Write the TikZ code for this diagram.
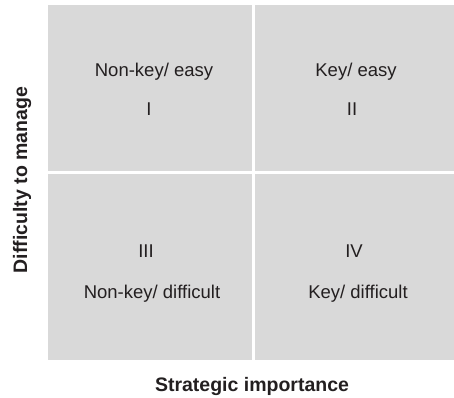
\documentclass[tikz,border=0pt]{standalone}
\usepackage{fontspec}
\setmainfont{Liberation Sans}
\usepackage{tikz}
\usepackage{xcolor}
\usetikzlibrary{positioning}
\definecolor{cellGray}{HTML}{D9D9D9}
\definecolor{textDark}{HTML}{231F20}
\tikzset{
   cell/.style={fill=cellGray, draw=none},
   cellText/.style={text=textDark, anchor=base, inner sep=0pt, font=\fontsize{18.5bp}{22bp}\selectfont},
   axisText/.style={text=textDark, anchor=base, inner sep=0pt, font=\fontsize{19.5bp}{23bp}\selectfont\bfseries},
}

\begin{document}
\begin{tikzpicture}[x=1bp,y=-1bp]
  \useasboundingbox (0,0) rectangle (454,397);
  %
  % the four quadrants
  \fill[cell] (48,5) rectangle (252,171);
  \fill[cell] (255,5) rectangle (454,171);
  \fill[cell] (48,173.5) rectangle (252,360);
  \fill[cell] (255,173.5) rectangle (454,360);
  %
  \node[cellText] (nonkeyEasy) at (154,76) {Non-key/ easy};
  \node[cellText] (quadI) at (149,115) {I};
  \node[cellText] (keyEasy) at (356,76) {Key/ easy};
  \node[cellText] (quadII) at (352,115) {II};
  %
  \node[cellText] (quadIII) at (146,257) {III};
  \node[cellText] (nonkeyDifficult) at (152,298) {Non-key/ difficult};
  \node[cellText] (quadIV) at (354,257) {IV};
  \node[cellText] (keyDifficult) at (358,298) {Key/ difficult};
  %
  % axis labels
  \node[axisText] (xLabel) at (252,391) {Strategic importance};
  \node[axisText, rotate=90] (yLabel) at (27,180) {Difficulty to manage};
\end{tikzpicture}
\end{document}
